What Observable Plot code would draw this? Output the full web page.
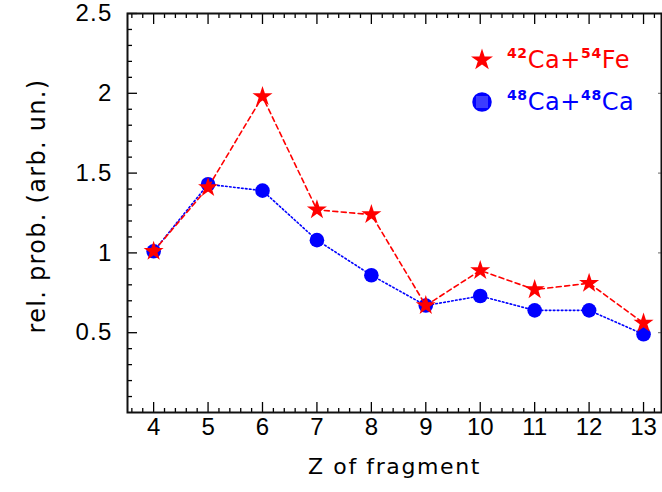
<!DOCTYPE html>
<html>
<head>
<meta charset="utf-8">
<script src="https://cdn.jsdelivr.net/npm/d3@7"></script>
<script src="https://cdn.jsdelivr.net/npm/@observablehq/plot@0.6"></script>
<style>
  html, body { margin: 0; padding: 0; background: #fff; }
  #chart { position: relative; width: 662px; height: 492px; }
</style>
</head>
<body>
<div id="chart"></div>
<script>
// ---- data ----
const zFragment = [4, 5, 6, 7, 8, 9, 10, 11, 12, 13];
const probCa42Fe54 = [1.01, 1.41, 1.98, 1.27, 1.24, 0.67, 0.89, 0.77, 0.81, 0.56];
const probCa48Ca48 = [1.01, 1.43, 1.39, 1.08, 0.86, 0.67, 0.73, 0.64, 0.64, 0.49];
const seriesNames = ["42Ca+54Fe", "48Ca+48Ca"];
const xTickValues = [4, 5, 6, 7, 8, 9, 10, 11, 12, 13];
const yTickValues = [0.5, 1, 1.5, 2, 2.5];
const xLabel = "Z of fragment";
const yLabel = "rel. prob. (arb. un.)";

const red = "#ff0000", blue = "#0000ff";
const rowsRed = zFragment.map((z, i) => ({z, p: probCa42Fe54[i]}));
const rowsBlue = zFragment.map((z, i) => ({z, p: probCa48Ca48[i]}));
const xMinor = d3.range(3.6, 13.35, 0.2).map(v => +v.toFixed(1)).filter(v => !xTickValues.includes(v));
const yMinor = d3.range(0.1, 2.5, 0.1).map(v => +v.toFixed(1)).filter(v => !yTickValues.includes(v));

const plot = Plot.plot({
  width: 662,
  height: 492,
  marginLeft: 127,
  marginRight: 1,
  marginTop: 13,
  marginBottom: 80,
  x: {domain: [3.52, 13.33]},
  y: {domain: [0, 2.5]},
  style: {fontFamily: "Liberation Sans, Arial, sans-serif", background: "#fff"},
  marks: [
    // bottom axis labels & ticks
    Plot.axisX({ticks: xTickValues, tickSize: 0, tickPadding: 5, fontSize: 24, label: null, tickFormat: d => String(d)}),
    Plot.axisX({ticks: xTickValues, tickSize: -10, text: null, label: null, strokeWidth: 1.3}),
    Plot.axisX({ticks: xMinor, tickSize: -4, text: null, label: null, strokeWidth: 1.3}),
    Plot.axisX({anchor: "top", ticks: xTickValues, tickSize: -10, text: null, label: null, strokeWidth: 1.3}),
    Plot.axisX({anchor: "top", ticks: xMinor, tickSize: -4, text: null, label: null, strokeWidth: 1.3}),
    // left axis
    Plot.axisY({ticks: yTickValues, tickSize: 0, tickPadding: 15, fontSize: 24, label: null, tickFormat: d => String(d)}),
    Plot.axisY({ticks: yTickValues, tickSize: -10, text: null, label: null, strokeWidth: 1.3}),
    Plot.axisY({ticks: yMinor, tickSize: -5, text: null, label: null, strokeWidth: 1.3}),
    Plot.axisY({anchor: "right", ticks: yTickValues, tickSize: -4, text: null, label: null, strokeWidth: 1, stroke: "#666"}),
    Plot.frame({stroke: "#111", strokeWidth: 2}),
    // axis titles
    Plot.text([xLabel], {frameAnchor: "bottom", dy: 61, fontSize: 22, fontFamily: "DejaVu Sans", fill: "#000", text: d => d}),
    Plot.text([yLabel], {frameAnchor: "left", textAnchor: "middle", dx: -90, dy: -7, rotate: -90, fontSize: 24, fontFamily: "DejaVu Sans", fill: "#000", text: d => d}),
    // series
    Plot.line(rowsBlue, {x: "z", y: "p", stroke: blue, strokeWidth: 1.6, strokeDasharray: "1.6,2.4"}),
    Plot.dot(rowsBlue, {x: "z", y: "p", r: 7.3, fill: blue, stroke: "none"}),
    Plot.line(rowsRed, {x: "z", y: "p", stroke: red, strokeWidth: 1.6, strokeDasharray: "5,3.5"}),
    Plot.dot(rowsRed, {x: "z", y: "p", symbol: "star", r: 6.3, fill: red, stroke: "none"})
  ]
});
document.getElementById("chart").appendChild(plot);

const svg = d3.select(plot);
// wider tracking on the axis titles, as in the reference
svg.selectAll("text").filter(function() { return this.textContent === xLabel; }).attr("letter-spacing", 1.6);
svg.selectAll("text").filter(function() { return this.textContent === yLabel; }).attr("letter-spacing", 1.3);
svg.selectAll('g[aria-label="y-axis tick label"] text').attr("letter-spacing", 1.2);

// ---- legend (inside plot area, top-right) ----
const legend = [
  {name: seriesNames[0], color: red, symbol: d3.symbolStar, size: 150, y: 60},
  {name: seriesNames[1], color: blue, symbol: d3.symbolCircle, size: 300, y: 102}
];
legend.forEach((item, i) => {
  const g = svg.append("g").attr("transform", `translate(482,${item.y})`);
  g.append("path").attr("d", d3.symbol(item.symbol, item.size)()).attr("fill", item.color);
  if (i === 1) {
    [-5, -3, -1, 1, 3, 5].forEach(dx => {
      g.append("line").attr("x1", dx).attr("x2", dx).attr("y1", -6).attr("y2", 6)
        .attr("stroke", "#fff").attr("stroke-width", 0.6).attr("opacity", 0.8);
    });
  }
  const m = item.name.match(/^(\d+)(\w+)\+(\d+)(\w+)$/);
  const t = svg.append("text")
    .attr("x", 507).attr("y", item.y + 8)
    .attr("text-anchor", "start")
    .attr("fill", item.color)
    .attr("font-family", "DejaVu Sans")
    .attr("letter-spacing", 0.6)
    .attr("font-size", 24);
  t.append("tspan").attr("font-size", 14).attr("font-weight", "bold").attr("dy", -10).text(m[1]);
  t.append("tspan").attr("dy", 10).text(m[2] + "+");
  t.append("tspan").attr("font-size", 14).attr("font-weight", "bold").attr("dy", -10).text(m[3]);
  t.append("tspan").attr("dy", 10).text(m[4]);
});
</script>
</body>
</html>
